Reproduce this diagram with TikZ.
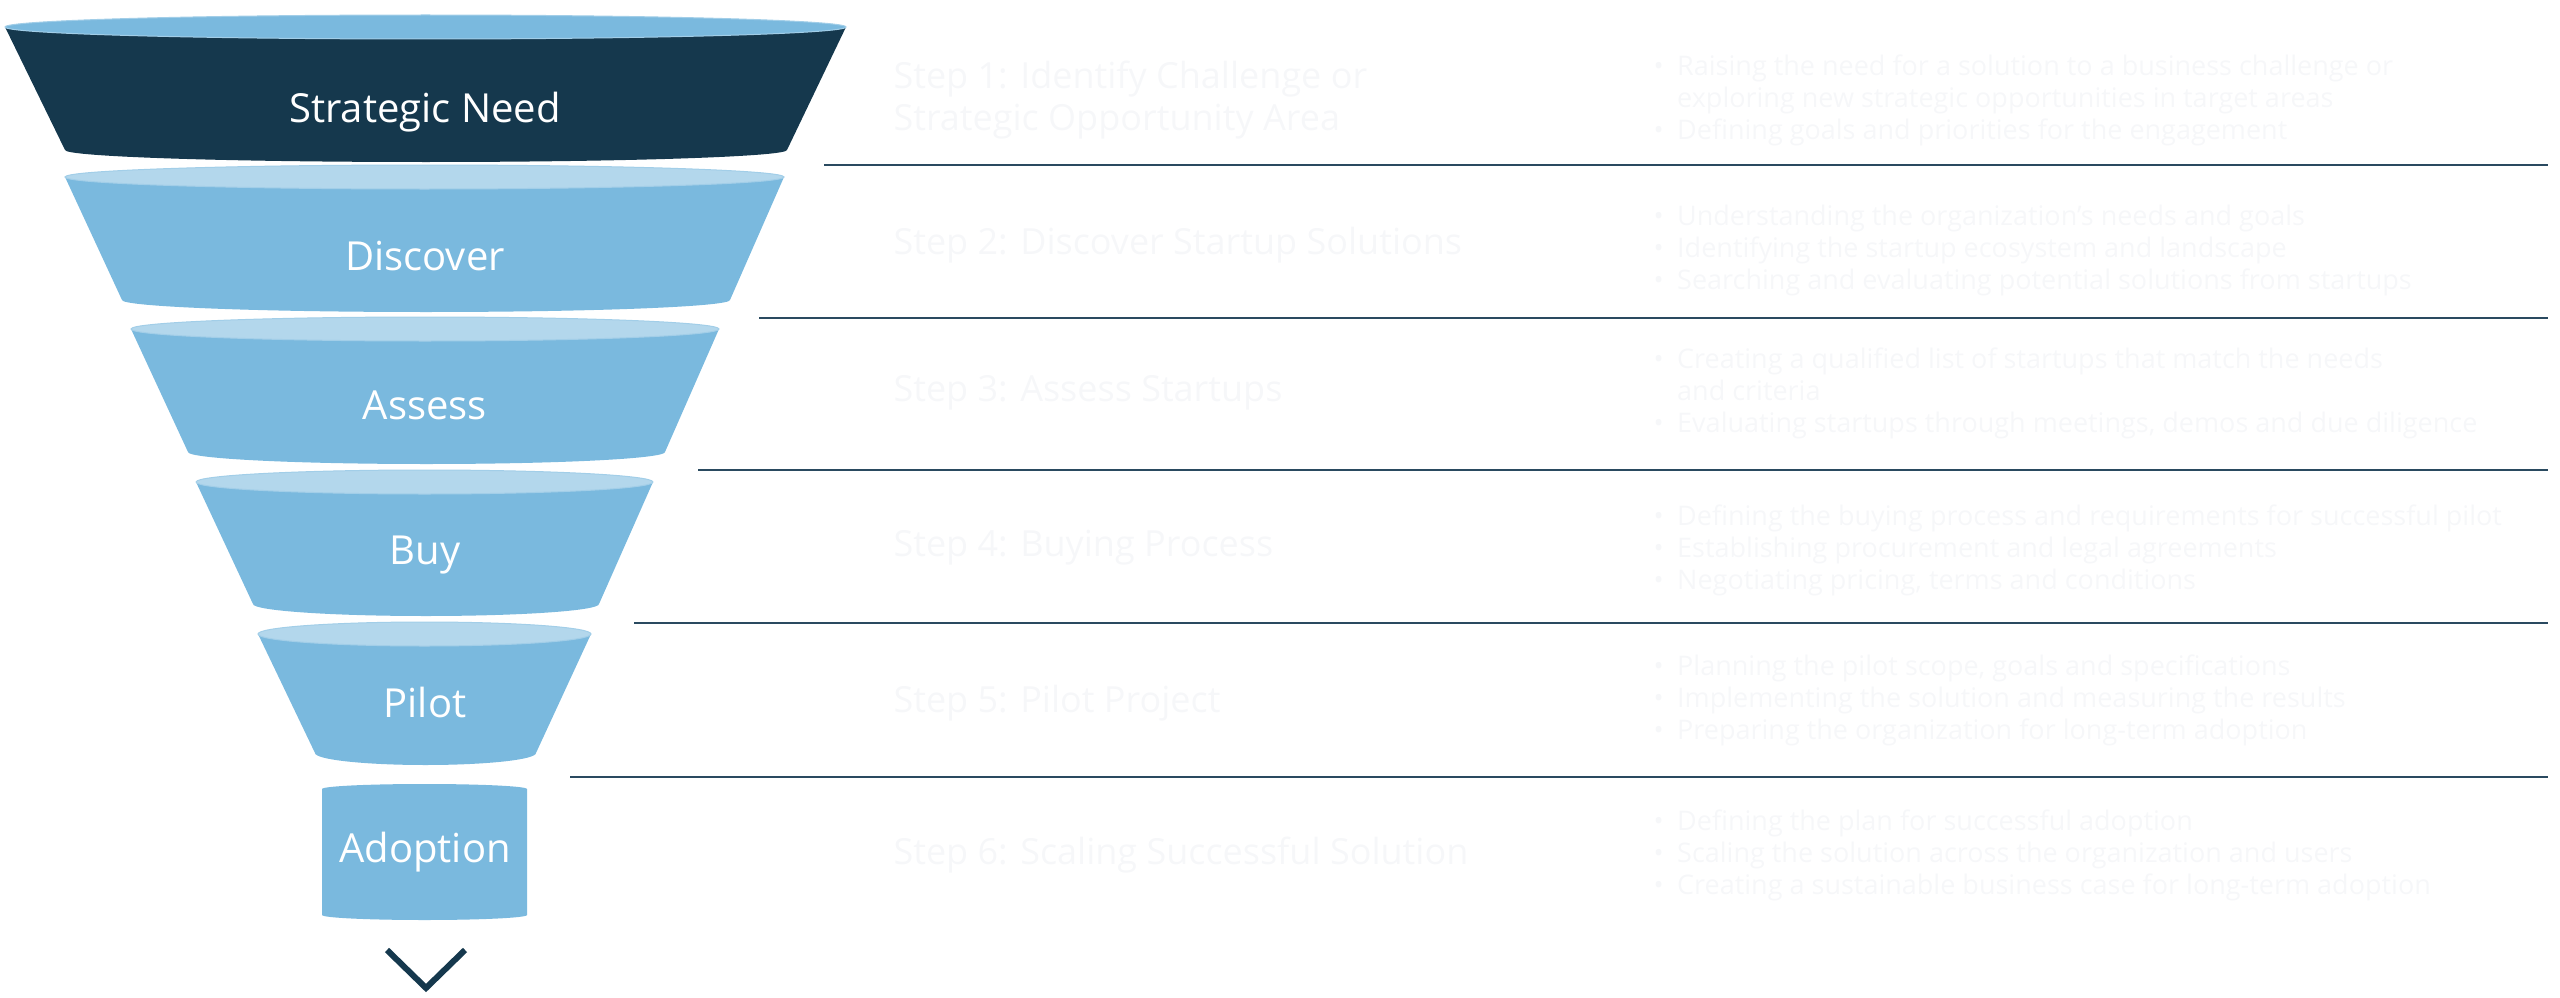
\documentclass[tikz,border=0pt]{standalone}
\usepackage{fontspec}
\setmainfont{Open Sans}
\definecolor{navy}{HTML}{15384D}
\definecolor{body}{HTML}{7AB9DE}
\definecolor{rim}{HTML}{B3D7EC}
\definecolor{faint}{HTML}{F6F7F9}
\definecolor{rule}{HTML}{2A4A60}
\tikzset{
  lbl/.style={text=white,font=\fontsize{40}{46}\selectfont,anchor=center},
  ttl/.style={text=faint,font=\fontsize{36}{42}\selectfont,anchor=west,align=left},
  bl/.style={text=faint,font=\fontsize{27}{32}\selectfont,anchor=west,align=left},
  sep/.style={draw=rule,line width=2.5pt}
}
\newcommand{\seg}[8]{% xl xr yt xl2 xr2 yb fill rimcolor
  \fill[#7] (#1,#3) -- (#4,#6) arc[start angle=180,end angle=0,x radius={(#5-#4)/2},y radius=12] -- (#2,#3) -- cycle;
  \fill[#8,draw=body!70!white,line width=1pt] ({(#1+#2)/2},#3) ellipse[x radius={(#2-#1)/2},y radius=12];
}
\begin{document}
\begin{tikzpicture}[x=1pt,y=-1pt]
\useasboundingbox (0,0) rectangle (2560,998);
\seg{5}{846}{27}{65}{787}{150}{navy}{body}
\seg{65}{784}{177}{122}{730}{300}{body}{rim}
\seg{131}{719}{329}{188}{665}{452}{body}{rim}
\seg{196}{653}{482}{253}{599}{604}{body}{rim}
\seg{258}{591}{634}{315}{536}{753}{body}{rim}
\fill[body] (322,789) -- (322,915) arc[start angle=180,end angle=0,x radius=102.5,y radius=5] -- (527,789) arc[start angle=0,end angle=-180,x radius=102.5,y radius=5] -- cycle;
\node[lbl] (n1) at (425,112) {Strategic Need};
\node[lbl] (n2) at (425,256) {Discover};
\node[lbl] (n3) at (425,405) {Assess};
\node[lbl] (n4) at (425,555) {Buy};
\node[lbl] (n5) at (425,702) {Pilot};
\node[lbl] (n6) at (425,852) {Adoption};
\draw[navy,line width=6pt] (387,950) -- (426,988) -- (465,950);
\draw[sep] (824,165) -- (2548,165);
\draw[sep] (759,318) -- (2548,318);
\draw[sep] (698,470) -- (2548,470);
\draw[sep] (634,623) -- (2548,623);
\draw[sep] (570,777) -- (2548,777);
\node[ttl] (t1) at (890,100) {Step 1: Identify Challenge or\\Strategic Opportunity Area};
\node[ttl] (t2) at (890,245) {Step 2: Discover Startup Solutions};
\node[ttl] (t3) at (890,393) {Step 3: Assess Startups};
\node[ttl] (t4) at (890,548) {Step 4: Buying Process};
\node[ttl] (t5) at (890,703) {Step 5: Pilot Project};
\node[ttl] (t6) at (890,855) {Step 6: Scaling Successful Solution};
\node[bl] (b1) at (1650,100) {•\enspace Raising the need for a solution to a business challenge or\\\phantom{•}\enspace exploring new strategic opportunities in target areas\\•\enspace Defining goals and priorities for the engagement};
\node[bl] (b2) at (1650,250) {•\enspace Understanding the organization's needs and goals\\•\enspace Identifying the startup ecosystem and landscape\\•\enspace Searching and evaluating potential solutions from startups};
\node[bl] (b3) at (1650,393) {•\enspace Creating a qualified list of startups that match the needs\\\phantom{•}\enspace and criteria\\•\enspace Evaluating startups through meetings, demos and due diligence};
\node[bl] (b4) at (1650,550) {•\enspace Defining the buying process and requirements for successful pilot\\•\enspace Establishing procurement and legal agreements\\•\enspace Negotiating pricing, terms and conditions};
\node[bl] (b5) at (1650,700) {•\enspace Planning the pilot scope, goals and specifications\\•\enspace Implementing the solution and measuring the results\\•\enspace Preparing the organization for long-term adoption};
\node[bl] (b6) at (1650,855) {•\enspace Defining the plan for successful adoption\\•\enspace Scaling the solution across the organization and users\\•\enspace Creating a sustainable business case for long-term adoption};
\end{tikzpicture}
\end{document}
